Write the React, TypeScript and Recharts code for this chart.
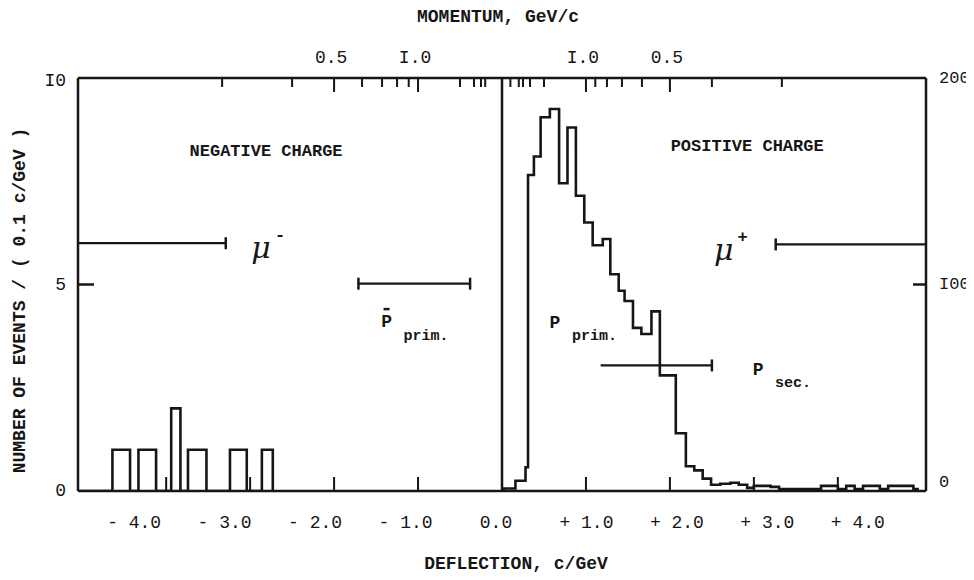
import React from "react";
import { ComposedChart, Line, XAxis, YAxis, ReferenceLine, ReferenceDot } from "recharts";

const INK = "#161616";
const MONO = "'Liberation Mono', 'DejaVu Sans Mono', monospace";

// bottom axis: deflection, c/GeV
const deflectionTicks = [-4, -3, -2, -1, 0, 1, 2, 3, 4];
const deflectionLabels = ["- 4.0", "- 3.0", "- 2.0", "- 1.0", "0.0", "+ 1.0", "+ 2.0", "+ 3.0", "+ 4.0"];

// top axis: momentum, GeV/c (sits at deflection = 1/p)
const momentumNeg = [0.3, 0.4, 0.5, 0.6, 0.7, 0.8, 0.9, 1.0, 2, 3, 4, 5];
const momentumPos = [0.3, 0.4, 0.5, 0.6, 0.7, 0.8, 0.9, 1.0, 2, 3, 4, 5, 10];
const momentumLabelled = [0.5, 1.0];
const momentumLabels = ["0.5", "I.0"];

const leftTicks = [0, 5, 10];
const leftLabels = ["0", "5", "I0"];
const rightTicks = [0, 100, 200];
const rightLabels = ["0", "I00", "200"];

// negative charge histogram (left scale), bin start edges + counts
const negEdges = [-5.05, -4.64, -4.43, -4.33, -4.12, -3.94, -3.83, -3.74, -3.52, -3.24, -3.04, -2.86, -2.73];
const negCounts = [0, 1, 0, 1, 0, 2, 0, 1, 0, 1, 0, 1, 0];

// positive charge histogram (right scale)
const posEdges = [
  0, 0.02, 0.16, 0.28, 0.31, 0.38, 0.46, 0.57, 0.68, 0.78,
  0.88, 0.98, 1.08, 1.2, 1.29, 1.39, 1.46, 1.56, 1.66, 1.78,
  1.88, 2.07, 2.19, 2.29, 2.39, 2.49, 2.6, 2.72, 2.82, 2.92,
  3.0, 3.1, 3.2, 3.3, 3.4, 3.5, 3.6, 3.7, 3.8, 3.9,
  4.0, 4.1, 4.2, 4.3, 4.4, 4.5, 4.6, 4.7, 4.8, 4.9, 4.95
];
const posCounts = [
  0, 1.2, 5, 11.5, 153, 162, 181, 185, 149, 176,
  143, 130, 119, 122, 105, 97, 92, 79, 76, 87,
  56, 28, 12, 10, 6, 3, 3.5, 4, 3, 1.5,
  2.5, 2.5, 2, 1, 1, 1, 1, 1, 2.5, 2.5,
  1, 2.5, 1, 2.5, 2.5, 1, 2.5, 2.5, 2.5, 1, 0
];

// momentum ranges drawn as bars (left scale)
const rangeFrom = [-5.05, -1.71, 1.175, 3.26];
const rangeTo = [-3.29, -0.38, 2.5, 5.05];
const rangeLevel = [6.0, 5.02, 3.04, 5.97];
const rangeCaps = ["end", "both", "end", "start"];

// annotations (left scale)
const chargeLabels = ["NEGATIVE CHARGE", "POSITIVE CHARGE"];
const chargeX = [-2.81, 2.92];
const chargeY = [8.22, 8.35];
const muSign = ["-", "+"];
const muX = [-2.87, 2.64];
const muY = [5.9, 5.84];
const pSub = ["prim.", "prim.", "sec."];
const pBar = [true, false, false];
const pX = [-1.375, 0.63, 3.05];
const pY = [4.09, 4.07, 2.94];

const DOMAIN_X: [number, number] = [-5.05, 5.05];

const BottomTick = (props: any) => {
  const { x, y, payload } = props;
  const i = deflectionTicks.indexOf(payload.value);
  const axisY = y - 32;
  return (
    <g>
      <line x1={x} x2={x} y1={axisY} y2={axisY - 14} stroke={INK} strokeWidth={2} />
      <text x={x + payload.value * 6.5 - 6} y={y} textAnchor="middle" dominantBaseline="central"
        fontFamily={MONO} fontSize={18} fill={INK}>{deflectionLabels[i]}</text>
    </g>
  );
};

const TopTick = (props: any) => {
  const { x, y, payload } = props;
  const p = 1 / Math.abs(payload.value);
  const li = momentumLabelled.findIndex((m) => Math.abs(m - p) < 1e-6);
  const axisY = y + 20;
  return (
    <g>
      <line x1={x} x2={x} y1={axisY} y2={axisY + (li >= 0 ? 14 : 9)} stroke={INK} strokeWidth={2} />
      {li >= 0 && (
        <text x={x - 3} y={y} textAnchor="middle" dominantBaseline="central"
          fontFamily={MONO} fontSize={18} fill={INK}>{momentumLabels[li]}</text>
      )}
    </g>
  );
};

const LeftTick = (props: any) => {
  const { x, y, payload } = props;
  const i = leftTicks.indexOf(payload.value);
  const axisX = x + 12;
  return (
    <g>
      {i === 1 && <line x1={axisX} x2={axisX + 16} y1={y} y2={y} stroke={INK} strokeWidth={2.5} />}
      <text x={x} y={y + (i === 2 ? 3 : 0)} textAnchor="end" dominantBaseline="central"
        fontFamily={MONO} fontSize={18} fill={INK}>{leftLabels[i]}</text>
    </g>
  );
};

const RightTick = (props: any) => {
  const { x, y, payload } = props;
  const i = rightTicks.indexOf(payload.value);
  const axisX = x - 13;
  return (
    <g>
      {i === 1 && <line x1={axisX - 13} x2={axisX} y1={y} y2={y} stroke={INK} strokeWidth={2.5} />}
      <text x={x} y={y - (i === 0 ? 9 : 0)} textAnchor="start" dominantBaseline="central"
        fontFamily={MONO} fontSize={17} fill={INK}>{rightLabels[i]}</text>
    </g>
  );
};

const axisLine = { stroke: INK, strokeWidth: 2.5 };

export default function App() {
  const negData = negEdges.map((x, i) => ({ x, y: negCounts[i] }));
  const posData = posEdges.map((x, i) => ({ x, y: posCounts[i] }));
  const topTicks = [...momentumNeg.map((p) => -1 / p), ...momentumPos.map((p) => 1 / p)].sort((a, b) => a - b);

  return (
    <ComposedChart width={966} height={572} margin={{ top: 30, right: 0, bottom: 44, left: 20 }}>
      <XAxis
        xAxisId="b" type="number" dataKey="x" domain={DOMAIN_X} allowDataOverflow
        ticks={deflectionTicks} interval={0} tickSize={0} tickMargin={32} tickLine={false}
        axisLine={axisLine} tick={BottomTick} height={45}
        label={{
          content: (p: any) => (
            <text x={p.viewBox.x + p.viewBox.width / 2 + 14} y={p.viewBox.y + 73} textAnchor="middle"
              dominantBaseline="central" fontFamily={MONO} fontWeight="bold" fontSize={18} fill={INK}>
              DEFLECTION, c/GeV
            </text>
          )
        }}
      />
      <XAxis
        xAxisId="t" orientation="top" type="number" dataKey="x" domain={DOMAIN_X} allowDataOverflow
        ticks={topTicks} interval={0} tickSize={0} tickMargin={20} tickLine={false}
        axisLine={axisLine} tick={TopTick} height={40}
        label={{
          content: (p: any) => (
            <text x={p.viewBox.x + p.viewBox.width / 2 - 4} y={p.viewBox.y - 21} textAnchor="middle"
              dominantBaseline="central" fontFamily={MONO} fontWeight="bold" fontSize={18} fill={INK}>
              MOMENTUM, GeV/c
            </text>
          )
        }}
      />
      <YAxis
        yAxisId="left" type="number" domain={[0, 10]} allowDataOverflow ticks={leftTicks} interval={0}
        tickSize={0} tickMargin={12} tickLine={false} axisLine={axisLine} tick={LeftTick} width={50}
        label={{
          content: (p: any) => {
            const cx = p.viewBox.x - 8;
            const cy = p.viewBox.y + p.viewBox.height / 2 + 16;
            return (
              <text x={cx} y={cy} transform={`rotate(-90 ${cx} ${cy})`} textAnchor="middle"
                dominantBaseline="central" fontFamily={MONO} fontWeight="bold" fontSize={18} fill={INK}>
                NUMBER OF EVENTS / ( 0.1 c/GeV )
              </text>
            );
          }
        }}
      />
      <YAxis
        yAxisId="right" orientation="right" type="number" domain={[0, 200]} allowDataOverflow
        ticks={rightTicks} interval={0} tickSize={0} tickMargin={13} tickLine={false}
        axisLine={axisLine} tick={RightTick} width={48}
      />

      <ReferenceLine xAxisId="b" yAxisId="left" x={0} stroke={INK} strokeWidth={2.5} />

      <Line xAxisId="b" yAxisId="left" data={negData} dataKey="y" type="stepAfter"
        stroke={INK} strokeWidth={2.6} dot={false} isAnimationActive={false} />
      <Line xAxisId="b" yAxisId="right" data={posData} dataKey="y" type="stepAfter"
        stroke={INK} strokeWidth={2.6} dot={false} isAnimationActive={false} />

      {rangeFrom.map((from, i) => (
        <Line
          key={"range" + i}
          xAxisId="b" yAxisId="left"
          data={[{ x: from, y: rangeLevel[i] }, { x: rangeTo[i], y: rangeLevel[i] }]}
          dataKey="y" type="linear" stroke={INK} strokeWidth={2.2} isAnimationActive={false}
          dot={(d: any) => {
            const cap = rangeCaps[i];
            const show = (d.index === 0 && (cap === "start" || cap === "both")) ||
              (d.index === 1 && (cap === "end" || cap === "both"));
            return show
              ? <line key={d.index} x1={d.cx} x2={d.cx} y1={d.cy - 6} y2={d.cy + 6} stroke={INK} strokeWidth={2.5} />
              : <g key={d.index} />;
          }}
        />
      ))}

      {chargeLabels.map((t, i) => (
        <ReferenceDot key={"c" + i} xAxisId="b" yAxisId="left" x={chargeX[i]} y={chargeY[i]} r={0}
          shape={(s: any) => (
            <text x={s.cx} y={s.cy} textAnchor="middle" dominantBaseline="central"
              fontFamily={MONO} fontWeight="bold" fontSize={17} fill={INK}>{t}</text>
          )}
        />
      ))}

      {muSign.map((sg, i) => (
        <ReferenceDot key={"mu" + i} xAxisId="b" yAxisId="left" x={muX[i]} y={muY[i]} r={0}
          shape={(s: any) => (
            <g>
              <text x={s.cx} y={s.cy} textAnchor="middle" dominantBaseline="central"
                fontFamily="'DejaVu Serif', serif" fontStyle="italic" fontSize={30} fill={INK}>μ</text>
              <text x={s.cx + 19} y={s.cy - 12} textAnchor="middle" dominantBaseline="central"
                fontFamily={MONO} fontWeight="bold" fontSize={17} fill={INK}>{sg}</text>
            </g>
          )}
        />
      ))}

      {pSub.map((sub, i) => (
        <ReferenceDot key={"p" + i} xAxisId="b" yAxisId="left" x={pX[i]} y={pY[i]} r={0}
          shape={(s: any) => (
            <g>
              {pBar[i] && <line x1={s.cx - 3} x2={s.cx + 3} y1={s.cy - 13} y2={s.cy - 13} stroke={INK} strokeWidth={2.5} />}
              <text x={s.cx} y={s.cy} textAnchor="middle" dominantBaseline="central"
                fontFamily={MONO} fontWeight="bold" fontSize={18} fill={INK}>P</text>
              <text x={s.cx + 17} y={s.cy + 14} textAnchor="start" dominantBaseline="central"
                fontFamily={MONO} fontWeight="bold" fontSize={15} fill={INK}>{sub}</text>
            </g>
          )}
        />
      ))}
    </ComposedChart>
  );
}
